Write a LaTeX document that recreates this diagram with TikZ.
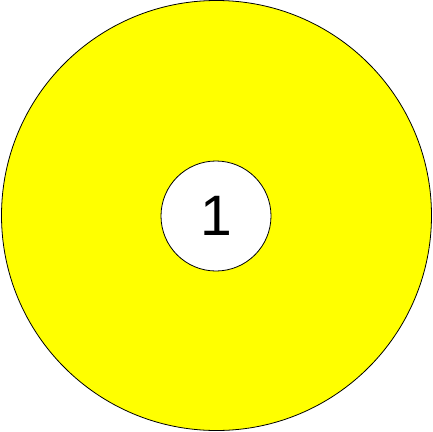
\documentclass[tikz,border=0pt]{standalone}
\usepackage{fontspec}
\setmainfont{Liberation Sans}
\definecolor{ringyellow}{RGB}{255,255,0}
\begin{document}
\begin{tikzpicture}[x=1pt, y=-1pt]
    \useasboundingbox (0,0) rectangle (433,431);
    \fill[ringyellow] (216.5,215.5) circle (215);
    \draw[line width=0.8pt] (216.5,215.5) circle (215);
    \node[circle, draw, line width=0.8pt, fill=white, minimum size=110pt, inner sep=0pt] (one) at (216,216) {\fontsize{57}{60}\selectfont 1};
\end{tikzpicture}
\end{document}
